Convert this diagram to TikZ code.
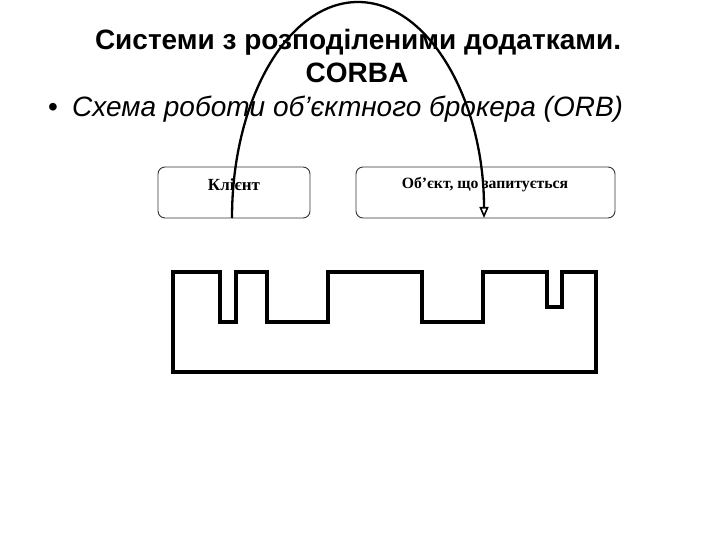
\documentclass[tikz,border=0pt]{standalone}
\usepackage{fontspec}
\setmainfont{Liberation Sans}
\newfontfamily\serifbox{Liberation Serif}
\usetikzlibrary{arrows.meta}
\tikzset{
  box/.style={draw=black!80, line width=0.9pt, rounded corners=7pt, inner sep=0pt},
  boxlabel/.style={font=\serifbox\bfseries\fontsize{17}{19}\selectfont, inner sep=0pt, anchor=base},
  orb/.style={draw=black, line width=3.4pt, line join=miter},
  callarc/.style={draw=black, line width=2.3pt, -{Triangle[open, length=11pt, width=9pt, line width=1.6pt]}},
}
\begin{document}
\begin{tikzpicture}[x=1pt, y=-1pt]
\useasboundingbox (0,0) rectangle (720,540);
% title
\node[font=\bfseries\fontsize{28}{32}\selectfont, anchor=base, inner sep=0pt] (t1) at (358,50) {Системи з розподіленими додатками.};
\node[font=\bfseries\fontsize{28}{32}\selectfont, anchor=base, inner sep=0pt] (t2) at (357,83) {CORBA};
\node[font=\fontsize{28}{32}\selectfont, anchor=base west, inner sep=0pt] (bul) at (48,117) {•};
\node[font=\itshape\fontsize{28}{32}\selectfont, anchor=base west, inner sep=0pt] (sub) at (72,117) {Схема роботи об’єктного брокера (ORB)};
% boxes
\draw[box] (158,167) rectangle (310,218);
\node[boxlabel] (client) at (234,191) {Клієнт};
\draw[box] (356,167) rectangle (615,218);
\node[boxlabel, font=\serifbox\bfseries\fontsize{15.7}{17}\selectfont] (obj) at (485,189) {Об’єкт, що запитується};
\coordinate (cs) at (232,218);
\coordinate (oe) at (484,218);
% ORB shape
\draw[orb] (173,372) -- (173,272) -- (220,272) -- (220,322) -- (236,322) -- (236,272)
  -- (267,272) -- (267,322) -- (328,322) -- (328,272) -- (422,272) -- (422,322)
  -- (483,322) -- (483,272) -- (547,272) -- (547,307) -- (562,307) -- (562,272)
  -- (596,272) -- (596,372) -- cycle;
% arc
\draw[callarc] (cs) arc[start angle=180, end angle=360, x radius=126, y radius=216];
\end{tikzpicture}
\end{document}
